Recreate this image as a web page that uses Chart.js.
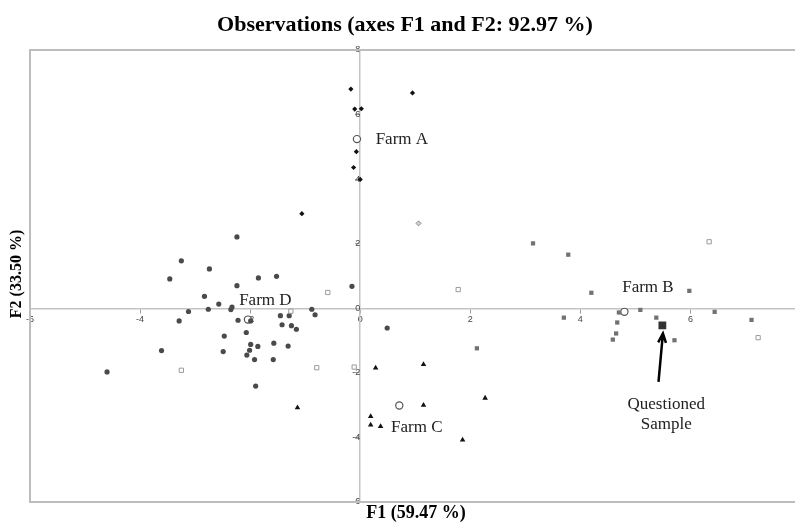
<!DOCTYPE html>
<html>
<head>
<meta charset="utf-8">
<title>Observations (axes F1 and F2: 92.97 %)</title>
<script src="https://cdn.jsdelivr.net/npm/chart.js@4.4.1/dist/chart.umd.min.js"></script>
<style>
  html, body { margin: 0; padding: 0; background: #fff; }
</style>
</head>
<body>
<canvas id="myChart" width="795" height="522"></canvas>
<script>
// observations, [F1, F2]
const farmA = [[-0.17, 6.79], [0.95, 6.67], [-0.10, 6.17], [0.02, 6.18], [-0.07, 4.85], [-0.12, 4.36], [0.0, 3.99], [-1.06, 2.93]];
const farmB = [[3.14, 2.01], [3.78, 1.66], [4.20, 0.48], [5.98, 0.54], [5.09, -0.05], [6.44, -0.11], [4.70, -0.13],
  [3.70, -0.29], [5.38, -0.29], [7.11, -0.36], [4.67, -0.44], [4.65, -0.78], [4.59, -0.97], [5.71, -0.99], [2.12, -1.24]];
const farmC = [[0.28, -1.85], [1.15, -1.74], [1.15, -3.00], [2.27, -2.78], [0.19, -3.35], [0.19, -3.61], [0.37, -3.66],
  [1.86, -4.08], [-1.14, -3.08]];
const farmD = [[-2.24, 2.21], [-3.25, 1.47], [-2.74, 1.22], [-3.46, 0.91], [-1.85, 0.94], [-1.52, 0.99], [-2.24, 0.70],
  [-2.83, 0.37], [-2.57, 0.13], [-2.33, 0.04], [-2.35, -0.04], [-2.76, -0.03], [-3.12, -0.10], [-3.29, -0.39],
  [-2.22, -0.37], [-1.99, -0.39], [-1.45, -0.23], [-1.29, -0.23], [-0.88, -0.03], [-0.82, -0.20], [-0.15, 0.68],
  [-1.42, -0.51], [-1.25, -0.54], [-1.16, -0.65], [-2.07, -0.75], [-2.47, -0.86], [-1.99, -1.12], [-1.86, -1.18],
  [-1.57, -1.08], [-1.31, -1.17], [-2.01, -1.30], [-2.49, -1.34], [-3.61, -1.31], [-2.06, -1.45], [-1.92, -1.59],
  [-1.58, -1.59], [-4.60, -1.97], [-1.90, -2.41], [0.49, -0.61]];
const others = [[-0.59, 0.49], [-1.26, -0.09], [-3.25, -1.92], [-0.79, -1.84], [-0.11, -1.82], [1.78, 0.58], [6.34, 2.06], [7.23, -0.91]];
const otherDiamond = [[1.06, 2.63]];
const centroids = [[-0.06, 5.24], [4.80, -0.11], [0.71, -3.01], [-2.04, -0.35]];
const questioned = [[5.49, -0.53]];

// axis ticks
const xRange = [-6, 7.9];
const yRange = [-6, 8];
const tickStep = 2;

// annotations (data units)
const notes = [
  { text: 'Farm A', x: 0.28, y: 5.22, align: 'left' },
  { text: 'Farm B', x: 4.76, y: 0.64, align: 'left' },
  { text: 'Farm C', x: 0.56, y: -3.69, align: 'left' },
  { text: 'Farm D', x: -2.2, y: 0.23, align: 'left' },
  { text: 'Questioned', x: 5.56, y: -2.97, align: 'center' },
  { text: 'Sample', x: 5.56, y: -3.59, align: 'center' }
];
const arrow = [[5.42, -2.28], [5.50, -0.78]];

const toPts = arr => arr.map(p => ({ x: p[0], y: p[1] }));

const extras = {
  id: 'extras',
  beforeDatasetsDraw(chart) {
    const { ctx, chartArea: a } = chart;
    ctx.save();
    ctx.strokeStyle = '#bdbdbd';
    ctx.lineWidth = 2;
    ctx.beginPath();
    ctx.moveTo(a.right, a.top);
    ctx.lineTo(a.left, a.top);
    ctx.lineTo(a.left, a.bottom);
    ctx.lineTo(a.right, a.bottom);
    ctx.stroke();
    ctx.restore();
  },
  afterDraw(chart) {
    const { ctx, scales: { x, y } } = chart;
    ctx.save();
    ctx.fillStyle = '#000';
    ctx.textAlign = 'center';
    ctx.textBaseline = 'middle';
    ctx.font = 'bold 22px "Liberation Serif"';
    ctx.fillText('Observations (axes F1 and F2: 92.97 %)', 405, 25);
    ctx.font = 'bold 18px "Liberation Serif"';
    ctx.fillText('F1 (59.47 %)', 416, 513);
    ctx.save();
    ctx.translate(17, 274);
    ctx.rotate(-Math.PI / 2);
    ctx.font = 'bold 16px "Liberation Serif"';
    ctx.fillText('F2 (33.50 %)', 0, 0);
    ctx.restore();

    ctx.fillStyle = '#222';
    ctx.font = '17px "Liberation Serif"';
    notes.forEach(n => {
      ctx.textAlign = n.align;
      ctx.fillText(n.text, x.getPixelForValue(n.x), y.getPixelForValue(n.y));
    });

    const x0 = x.getPixelForValue(arrow[0][0]), y0 = y.getPixelForValue(arrow[0][1]);
    const x1 = x.getPixelForValue(arrow[1][0]), y1 = y.getPixelForValue(arrow[1][1]);
    const ang = Math.atan2(y1 - y0, x1 - x0);
    ctx.strokeStyle = '#000';
    ctx.lineWidth = 2.5;
    ctx.beginPath();
    ctx.moveTo(x0, y0);
    ctx.lineTo(x1, y1);
    ctx.moveTo(x1 - 10 * Math.cos(ang - 0.4), y1 - 10 * Math.sin(ang - 0.4));
    ctx.lineTo(x1, y1);
    ctx.lineTo(x1 - 10 * Math.cos(ang + 0.4), y1 - 10 * Math.sin(ang + 0.4));
    ctx.stroke();
    ctx.restore();
  }
};

const ctx = document.getElementById('myChart');
const myChart = new Chart(ctx, {
  type: 'scatter',
  data: {
    datasets: [
      { label: 'Other', data: toPts(others), pointStyle: 'rect', radius: 3, borderWidth: 1,
        borderColor: '#9a9a9a', backgroundColor: '#fff' },
      { label: 'Other 2', data: toPts(otherDiamond), pointStyle: 'rectRot', radius: 2.5, borderWidth: 1,
        borderColor: '#8a8a8a', backgroundColor: '#d0d0d0' },
      { label: 'Farm A', data: toPts(farmA), pointStyle: 'rectRot', radius: 2.6, borderWidth: 0,
        backgroundColor: '#111' },
      { label: 'Farm B', data: toPts(farmB), pointStyle: 'rect', radius: 3, borderWidth: 0,
        backgroundColor: '#727272' },
      { label: 'Farm C', data: toPts(farmC), pointStyle: 'triangle', radius: 3.2, borderWidth: 0,
        backgroundColor: '#111' },
      { label: 'Farm D', data: toPts(farmD), pointStyle: 'circle', radius: 2.6, borderWidth: 0,
        backgroundColor: '#4a4a4a' },
      { label: 'Centroids', data: toPts(centroids), pointStyle: 'circle', radius: 3.6, borderWidth: 1.2,
        borderColor: '#555', backgroundColor: '#fff' },
      { label: 'Questioned Sample', data: toPts(questioned), pointStyle: 'rect', radius: 5.5, borderWidth: 0,
        backgroundColor: '#333' }
    ]
  },
  options: {
    responsive: false,
    animation: false,
    devicePixelRatio: 1,
    layout: { autoPadding: false, padding: { top: 50, left: 30, right: 0, bottom: 20 } },
    plugins: {
      legend: { display: false },
      tooltip: { enabled: false },
      title: { display: false }
    },
    elements: { point: { hoverRadius: 4 } },
    scales: {
      x: {
        type: 'linear',
        min: xRange[0],
        max: xRange[1],
        position: { y: 0 },
        border: { color: '#c4c4c4', width: 1.5 },
        grid: { display: true, drawOnChartArea: false, drawTicks: true, tickLength: 4, color: '#9a9a9a' },
        ticks: { stepSize: tickStep, includeBounds: false, padding: 2, color: '#444',
          font: { family: 'Liberation Sans', size: 9 } }
      },
      y: {
        type: 'linear',
        min: yRange[0],
        max: yRange[1],
        position: { x: 0 },
        border: { color: '#c4c4c4', width: 1.5 },
        grid: { display: true, drawOnChartArea: false, drawTicks: true, tickLength: 4, color: '#9a9a9a' },
        ticks: { stepSize: tickStep, includeBounds: false, padding: 2, color: '#444',
          font: { family: 'Liberation Sans', size: 9 } }
      }
    }
  },
  plugins: [extras]
});
</script>
</body>
</html>
